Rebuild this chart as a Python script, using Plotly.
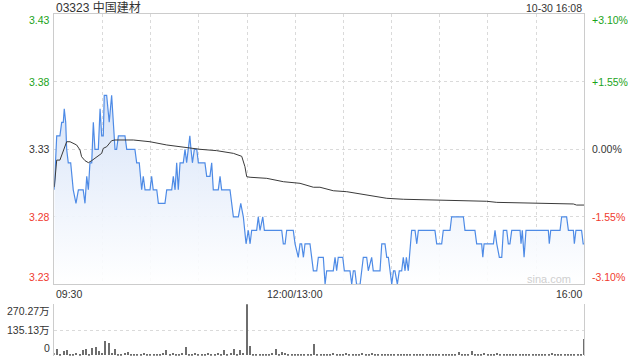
import plotly.graph_objects as go

# ---------------- data ----------------
title_text = "03323 中国建材"
stamp_text = "10-30 16:08"

# minutes after 09:30 on a trading-time axis (lunch break removed, 330 = 16:00)
price_min = [0, 1.5, 3.5, 4.6, 5.6, 6.2, 7.1, 7.7, 8.7, 10.2, 11.8, 13.5, 15, 18, 19.1, 20.2, 21.2, 22.2,
             23.3, 24.3, 25.3, 27.4, 28.5, 29.5, 30.5, 31.1, 32.6, 34.2, 35.7, 36.7, 37.8, 38.8, 39.9, 44,
             45.1, 50.2, 51.3, 52.9, 54.4, 55.4, 56.5, 59.6, 60.6, 61.6, 63.8, 64.8, 68.9, 70, 73.1, 74.1,
             75.2, 76.2, 77.2, 78.3, 80.3, 81.4, 82.4, 83.4, 84.4, 85.1, 86, 87.2, 88.7, 89.7, 93.8, 94.9,
             96.9, 98, 99, 102.1, 103.2, 104.2, 109.4, 111.5, 114.6, 116.1, 117.7, 119.4, 120.8, 121.9,
             122.9, 126, 127, 128.1, 129.8, 130.8, 141.6, 142.6, 143.7, 144.7, 148.8, 149.9, 151.9, 153,
             154, 155.1, 156.1, 159.2, 161.3, 163.4, 164.4, 166.5, 167.5, 168.6, 169.6, 173.7, 174.8,
             175.8, 176.8, 179.6, 180.6, 184.1, 185.2, 186.2, 187.2, 188.2, 190.4, 191.4, 192.4, 194.5,
             195.5, 197.6, 198.6, 202.8, 203.9, 205.9, 207, 208, 210.1, 211.2, 212.1, 213.6, 214.8, 216.3,
             217.3, 218.4, 219.2, 220.4, 222.5, 224.6, 225.7, 226.7, 237, 238.1, 241.2, 242.2, 246.4,
             247.4, 254.7, 255.7, 261.9, 263, 266.1, 266.8, 267.6, 273.4, 274.4, 275.5, 277.1, 278.6,
             279.6, 281.7, 282.7, 283.7, 284.8, 290, 290.6, 291.4, 292.5, 293.7, 307.6, 308.2, 309.1,
             314.9, 315.9, 319, 320.1, 323.2, 323.8, 324.8, 328.3, 329.3, 330]
price_val = [3.30, 3.34, 3.34, 3.35, 3.35, 3.36, 3.35, 3.33, 3.32, 3.32, 3.30, 3.29, 3.30, 3.30, 3.29, 3.31,
             3.30, 3.32, 3.32, 3.35, 3.33, 3.33, 3.36, 3.34, 3.34, 3.37, 3.37, 3.35, 3.37, 3.35, 3.33,
             3.33, 3.34, 3.34, 3.33, 3.33, 3.32, 3.32, 3.30, 3.31, 3.30, 3.30, 3.31, 3.30, 3.30, 3.29,
             3.29, 3.30, 3.30, 3.31, 3.30, 3.32, 3.30, 3.32, 3.32, 3.33, 3.32, 3.33, 3.34, 3.33, 3.32,
             3.33, 3.33, 3.32, 3.32, 3.31, 3.31, 3.32, 3.30, 3.30, 3.31, 3.30, 3.30, 3.28, 3.28, 3.29,
             3.28, 3.26, 3.27, 3.26, 3.27, 3.27, 3.28, 3.27, 3.28, 3.27, 3.27, 3.26, 3.26, 3.27, 3.27,
             3.26, 3.25, 3.26, 3.26, 3.25, 3.26, 3.26, 3.24, 3.24, 3.25, 3.25, 3.25, 3.23, 3.24, 3.24,
             3.25, 3.24, 3.25, 3.25, 3.24, 3.24, 3.23, 3.24, 3.24, 3.23, 3.23, 3.24, 3.25, 3.25, 3.24,
             3.25, 3.24, 3.24, 3.26, 3.26, 3.25, 3.25, 3.23, 3.24, 3.24, 3.23, 3.24, 3.24, 3.25, 3.24,
             3.25, 3.24, 3.27, 3.27, 3.26, 3.27, 3.27, 3.26, 3.26, 3.27, 3.27, 3.28, 3.28, 3.27, 3.27,
             3.26, 3.26, 3.25, 3.26, 3.26, 3.27, 3.26, 3.25, 3.25, 3.27, 3.27, 3.26, 3.26, 3.27, 3.27,
             3.26, 3.27, 3.25, 3.27, 3.27, 3.26, 3.27, 3.27, 3.28, 3.28, 3.27, 3.27, 3.26, 3.27, 3.27,
             3.26, 3.26]

avg_min = [0, 1.5, 3.5, 7.7, 9.8, 13.9, 16, 17, 19.1, 21.2, 23.3, 26.4, 29.5, 30.5, 32.6, 35.7, 37.8, 49.2,
           53.4, 59.6, 70, 80.3, 90.7, 101.1, 111.5, 116.7, 118.7, 119.8, 121.9, 132.3, 142.6, 153, 161.3,
           165.4, 173.7, 182.1, 190.4, 198.6, 207, 217.3, 227.7, 248.4, 254.7, 269.2, 275.5, 290, 298.3,
           310.7, 323.2, 325.2, 330]
avg_val = [3.302, 3.322, 3.322, 3.3356, 3.3356, 3.3332, 3.3295, 3.3245, 3.3216, 3.3201, 3.3216, 3.3245,
           3.327, 3.3307, 3.3319, 3.3364, 3.3369, 3.3369, 3.3364, 3.3356, 3.3332, 3.3315, 3.33, 3.329,
           3.327, 3.3248, 3.3171, 3.3097, 3.3093, 3.3085, 3.306, 3.3048, 3.3019, 3.3019, 3.2993, 3.2986,
           3.2969, 3.2954, 3.2937, 3.293, 3.2927, 3.2925, 3.2919, 3.2915, 3.2907, 3.2904, 3.29, 3.2897,
           3.2895, 3.2887, 3.2887]

# volume (万 shares) every 2 minutes, 0..330
vol_min = list(range(0, 331, 2))
vol_val = [12, 36, 10, 23, 27, 10, 8, 12, 9, 27, 33, 10, 38, 42, 23, 14, 74, 67, 15, 36,
           10, 8, 12, 20, 8, 6, 10, 8, 12, 6, 9, 7, 10, 8, 12, 27, 9, 14, 10, 8,
           12, 42, 10, 8, 12, 9, 7, 10, 14, 8, 10, 12, 9, 27, 10, 14, 36, 10, 30, 12,
           268, 50, 10, 8, 9, 7, 10, 8, 12, 32, 10, 20, 14, 9, 8, 10, 9, 7, 10, 8,
           9, 61, 8, 10, 7, 9, 6, 12, 8, 10, 7, 14, 9, 6, 10, 8, 12, 7, 9, 15,
           8, 6, 10, 9, 7, 6, 8, 7, 6, 9, 7, 6, 8, 7, 9, 6, 8, 7, 6, 9,
           7, 8, 6, 7, 9, 8, 17, 7, 9, 6, 23, 8, 10, 7, 12, 9, 8, 10, 14, 7,
           9, 8, 6, 10, 7, 8, 6, 9, 7, 8, 6, 9, 7, 8, 10, 12, 7, 9, 6, 8,
           7, 10, 8, 6, 9, 86]

price_ticks = [3.23, 3.28, 3.33, 3.38, 3.43]
price_tick_text = ["3.23", "3.28", "3.33", "3.38", "3.43"]
pct_tick_text = ["-3.10%", "-1.55%", "0.00%", "+1.55%", "+3.10%"]
vol_ticks = [0, 135.13, 270.27]
vol_tick_text = ["0", "135.13万", "270.27万"]
x_tick_text = ["09:30", "12:00/13:00", "16:00"]
x_tick_pos = [0, 150, 330]

# ---------------- figure ----------------
W, H = 640, 360
L, R = 54.3, 584.3
PT, PB = 14.3, 284.3
VT, VB = 304.3, 355.7

def px(x):
    return x / W

def py(y):
    return 1 - y / H

GREEN = "#1aa31a"
RED = "#f03a2e"
DARK = "#333333"
GRID = "#dadada"
FONT = "Liberation Sans, Arial, Noto Sans CJK SC, sans-serif"

fig = go.Figure()

fig.add_trace(go.Scatter(
    x=price_min, y=price_val, mode="lines",
    line=dict(color="#4e8be6", width=1.2, shape="linear"),
    fill="tozeroy",
    fillgradient=dict(type="vertical", start=3.23, stop=3.37,
                      colorscale=[[0, "rgba(255,255,255,0.9)"], [1, "rgba(214,227,248,1)"]]),
    xaxis="x", yaxis="y", hoverinfo="skip", showlegend=False))

fig.add_trace(go.Scatter(
    x=avg_min, y=avg_val, mode="lines",
    line=dict(color="#3a3a3a", width=1),
    xaxis="x", yaxis="y", hoverinfo="skip", showlegend=False))

fig.add_trace(go.Bar(
    x=vol_min, y=vol_val, width=0.7,
    marker=dict(color="#6e6e6e", line=dict(width=0)),
    xaxis="x2", yaxis="y2", hoverinfo="skip", showlegend=False))

fig.update_layout(
    width=W, height=H,
    margin=dict(l=0, r=0, t=0, b=0),
    paper_bgcolor="white", plot_bgcolor="white",
    font=dict(family=FONT, size=10.5, color=DARK),
    bargap=0,
    xaxis=dict(domain=[px(L), px(R)], range=[0, 330], anchor="y",
               tickmode="linear", tick0=0, dtick=30, showticklabels=False,
               showgrid=True, gridcolor=GRID, griddash="dot", gridwidth=1,
               showline=True, linecolor="#cccccc", linewidth=1, mirror=True,
               zeroline=False, ticks=""),
    yaxis=dict(domain=[py(PB), py(PT)], range=[3.23, 3.43], anchor="x",
               tickvals=[3.28, 3.33, 3.38], showticklabels=False,
               showgrid=True, gridcolor=GRID, griddash="dot", gridwidth=1,
               showline=True, linecolor="#cccccc", linewidth=1, mirror=True,
               zeroline=False, ticks=""),
    xaxis2=dict(domain=[px(L), px(R)], range=[0, 330], anchor="y2",
                showticklabels=False, showgrid=False, zeroline=False,
                showline=False, ticks=""),
    yaxis2=dict(domain=[py(VB), py(VT)], range=[0, 270.27], anchor="x2",
                tickvals=[135.13, 270.27], showticklabels=False,
                showgrid=True, gridcolor=GRID, griddash="dot", gridwidth=1,
                showline=True, linecolor="#cccccc", linewidth=1, mirror=True,
                zeroline=False, ticks=""),
)

ann = []
# title and timestamp
ann.append(dict(x=px(L), y=py(7), xref="paper", yref="paper", text=title_text,
                showarrow=False, xanchor="left", yanchor="middle",
                font=dict(size=12, color=DARK)))
ann.append(dict(x=px(R), y=py(8), xref="paper", yref="paper", text=stamp_text,
                showarrow=False, xanchor="right", yanchor="middle",
                font=dict(size=10.5, color=DARK)))

# price & percent labels
colors = [RED, RED, DARK, GREEN, GREEN]
shifts = [7, 0, 0, 0, -6]
for v, t, pt, c, s in zip(price_ticks, price_tick_text, pct_tick_text, colors, shifts):
    ann.append(dict(x=px(L - 2.5), y=v, xref="paper", yref="y", text=t, showarrow=False,
                    xanchor="right", yanchor="middle", yshift=s, font=dict(color=c)))
    ann.append(dict(x=px(R + 6), y=v, xref="paper", yref="y", text=pt, showarrow=False,
                    xanchor="left", yanchor="middle", yshift=s, font=dict(color=c)))

# time labels
anchors = ["left", "center", "right"]
for pos, t, a in zip(x_tick_pos, x_tick_text, anchors):
    ann.append(dict(x=pos, y=py(294), xref="x", yref="paper", text=t, showarrow=False,
                    xanchor=a, yanchor="middle", font=dict(color=DARK)))

# volume labels
vshifts = [8, 0, -7]
for v, t, s in zip(vol_ticks, vol_tick_text, vshifts):
    ann.append(dict(x=px(L - 2.5), y=v, xref="paper", yref="y2", text=t, showarrow=False,
                    xanchor="right", yanchor="middle", yshift=s, font=dict(color=DARK)))

# watermark
ann.append(dict(x=px(573), y=py(279), xref="paper", yref="paper", text="sina.com",
                showarrow=False, xanchor="right", yanchor="middle",
                font=dict(size=11, color="#cfcfcf")))

fig.update_layout(annotations=ann)

fig.write_html("out.html")
